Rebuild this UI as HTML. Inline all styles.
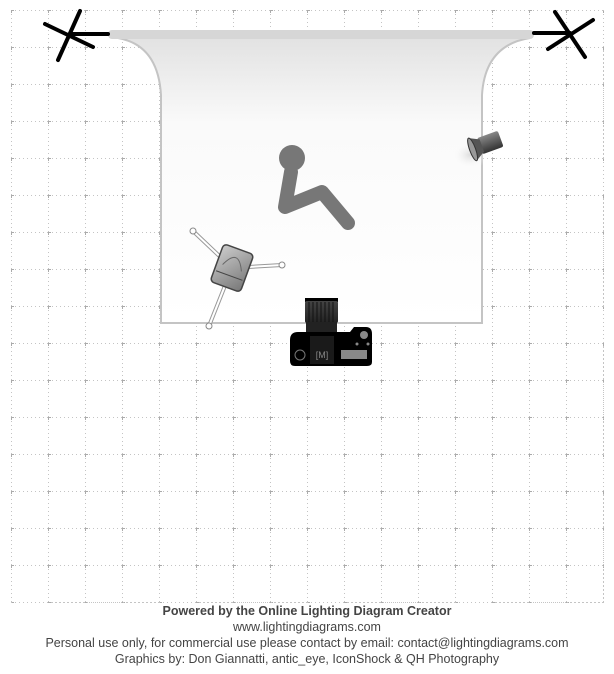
<!DOCTYPE html>
<html><head><meta charset="utf-8"><style>
html,body{margin:0;padding:0;background:#fff;width:614px;height:674px;overflow:hidden}
.t{position:absolute;left:0;width:614px;text-align:center;font-family:"Liberation Sans",sans-serif;font-size:12.5px;color:#444;line-height:16px}
</style></head><body>
<svg width="614" height="674" style="position:absolute;left:0;top:0">
<defs>
<pattern id="g" x="11" y="10" width="37" height="37" patternUnits="userSpaceOnUse">
<path d="M0.5 0V37M0 0.5H37" stroke="#c4c4c4" stroke-width="1" stroke-dasharray="1,3" fill="none"/>
<path d="M0.5 -2V3M-2 0.5H3" stroke="#aaa" stroke-width="1" fill="none"/>
</pattern>
<linearGradient id="bg" x1="0" y1="0" x2="0" y2="1">
<stop offset="0" stop-color="#e2e2e2"/><stop offset="0.3" stop-color="#fafafa"/><stop offset="1" stop-color="#fff"/>
</linearGradient>
<radialGradient id="glow" cx="0.5" cy="0.5" r="0.5"><stop offset="0" stop-color="#ddd"/><stop offset="1" stop-color="#fff" stop-opacity="0"/></radialGradient>
<linearGradient id="sb" x1="0" y1="0" x2="1" y2="1"><stop offset="0" stop-color="#ccc"/><stop offset="1" stop-color="#777"/></linearGradient>
<linearGradient id="sp" x1="0" y1="0" x2="0" y2="1"><stop offset="0" stop-color="#888"/><stop offset="1" stop-color="#333"/></linearGradient>
<linearGradient id="ln" x1="0" y1="0" x2="0" y2="1"><stop offset="0" stop-color="#444"/><stop offset="1" stop-color="#222"/></linearGradient>
</defs>
<rect x="11" y="10" width="593" height="593" fill="url(#g)"/>
<path d="M603.5 10V603M11 602.5H604" stroke="#c4c4c4" stroke-dasharray="1,3" fill="none"/>
<!-- backdrop -->
<path d="M118 38 Q158 45 161 95 L161 323 L482 323 L482 95 Q485 45 530 38 Z" fill="url(#bg)" stroke="#c4c4c4" stroke-width="2"/>
<rect x="108" y="30" width="426" height="9" rx="4" fill="#d6d6d6"/>
<!-- stands -->
<g stroke="#000" stroke-width="4" stroke-linecap="round">
<line x1="80" y1="11" x2="58" y2="60"/><line x1="45" y1="24" x2="93" y2="47"/><line x1="70" y1="34" x2="108" y2="34"/>
<line x1="555" y1="12" x2="585" y2="57"/><line x1="593" y1="20" x2="548" y2="49"/><line x1="534" y1="33" x2="570" y2="33"/>
</g>
<!-- person -->
<g stroke="#777" stroke-width="14" stroke-linecap="round" stroke-linejoin="round" fill="none">
<path d="M291 172 L285 207 L322 192 L348 223"/>
</g>
<circle cx="292" cy="158" r="13" fill="#777"/>
<!-- spotlight -->
<ellipse cx="470" cy="155" rx="18" ry="14" fill="url(#glow)"/>
<g transform="translate(482,146) rotate(-20)">
<rect x="-2" y="-9" width="22" height="17" rx="2" fill="url(#sp)"/>
<path d="M-10 -12 L0 -7 L0 6 L-10 12 Z" fill="#555"/>
<ellipse cx="-10" cy="0" rx="3" ry="12" fill="#999" stroke="#333"/>
</g>
<!-- softbox stand -->
<g stroke="#999" stroke-width="4" stroke-linecap="round"><line x1="232" y1="268" x2="193" y2="231"/><line x1="232" y1="268" x2="282" y2="265"/><line x1="232" y1="268" x2="209" y2="326"/></g>
<g stroke="#fff" stroke-width="2" stroke-linecap="round"><line x1="232" y1="268" x2="193" y2="231"/><line x1="232" y1="268" x2="282" y2="265"/><line x1="232" y1="268" x2="209" y2="326"/></g>
<g fill="#fff" stroke="#888"><circle cx="193" cy="231" r="3"/><circle cx="282" cy="265" r="3"/><circle cx="209" cy="326" r="3"/></g>
<g transform="translate(232,268) rotate(20)">
<rect x="-16" y="-20" width="32" height="40" rx="4" fill="url(#sb)" stroke="#444" stroke-width="1.5"/>
<path d="M-10 0 Q0 -22 10 0" stroke="#666" fill="none"/>
<line x1="-14" y1="8" x2="14" y2="8" stroke="#444"/>
</g>
<!-- camera -->
<rect x="305" y="298" width="33" height="4" fill="#000"/>
<rect x="305" y="301" width="33" height="22" rx="2" fill="url(#ln)"/>
<g stroke="#111" stroke-width="1">
<line x1="309" y1="302" x2="309" y2="322"/><line x1="313" y1="302" x2="313" y2="322"/><line x1="317" y1="302" x2="317" y2="322"/><line x1="321" y1="302" x2="321" y2="322"/><line x1="325" y1="302" x2="325" y2="322"/><line x1="329" y1="302" x2="329" y2="322"/><line x1="333" y1="302" x2="333" y2="322"/>
</g>
<rect x="306" y="322" width="31" height="13" fill="#222"/>
<path d="M290 340 Q290 332 298 332 L350 332 L354 327 L366 327 Q372 327 372 334 L372 362 Q372 366 367 366 L295 366 Q290 366 290 361 Z" fill="#000"/>
<rect x="310" y="336" width="24" height="28" fill="#1a1a1a"/>
<text x="322" y="358" font-size="9" fill="#888" text-anchor="middle" font-family="Liberation Sans">[M]</text>
<circle cx="300" cy="355" r="5" fill="none" stroke="#777"/>
<rect x="341" y="350" width="26" height="9" fill="#888"/>
<circle cx="364" cy="335" r="4" fill="#888"/>
<circle cx="357" cy="344" r="1.5" fill="#888"/><circle cx="368" cy="344" r="1.5" fill="#888"/>
</svg>
<div class="t" style="top:603px;font-weight:bold">Powered by the Online Lighting Diagram Creator</div>
<div class="t" style="top:619px">www.lightingdiagrams.com</div>
<div class="t" style="top:635px">Personal use only, for commercial use please contact by email: contact@lightingdiagrams.com</div>
<div class="t" style="top:651px">Graphics by: Don Giannatti, antic_eye, IconShock &amp; QH Photography</div>
</body></html>
